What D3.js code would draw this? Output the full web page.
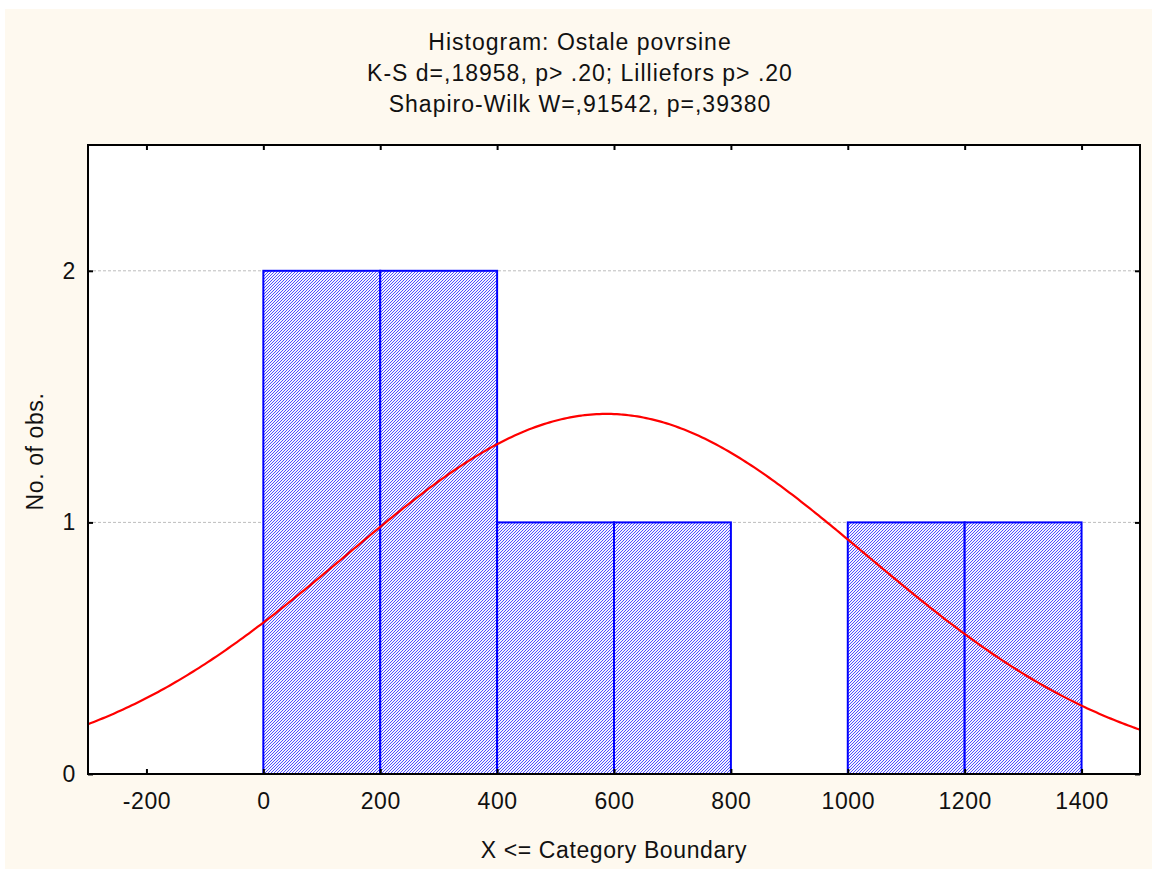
<!DOCTYPE html>
<html><head><meta charset="utf-8">
<script src="https://cdn.jsdelivr.net/npm/d3@7"></script>
<style>body{margin:0;background:#fff}svg{display:block}text{font-family:"Liberation Sans",Arial,sans-serif;fill:#111}</style>
</head><body><div id="chart"></div>
<script>
const titleLines = ["Histogram: Ostale povrsine", "K-S d=,18958, p> .20; Lilliefors p> .20", "Shapiro-Wilk W=,91542, p=,39380"];
const binStarts = [0, 200, 400, 600, 1000, 1200];
const binEnds = [200, 400, 600, 800, 1200, 1400];
const counts = [2, 2, 1, 1, 1, 1];
const xTicks = [-200, 0, 200, 400, 600, 800, 1000, 1200, 1400];
const yTicks = [0, 1, 2];
const fitMean = 587, fitSd = 446, fitN = 8, fitBin = 200;
const xLabel = "X <= Category Boundary", yLabel = "No. of obs.";

const W = 1152, H = 869;
const svg = d3.select("#chart").append("svg").attr("width", W).attr("height", H);
svg.append("rect").attr("x", 5).attr("y", 9).attr("width", W - 5).attr("height", H - 9).attr("fill", "#fef9ef");
const L = 88, R = 1140, T = 145, B = 774;
const x = d3.scaleLinear().domain([-300, 1500]).range([L, R]);
const y = d3.scaleLinear().domain([0, 2.5]).range([B, T]);

const defs = svg.append("defs");
const pat = defs.append("pattern").attr("id", "hatch").attr("patternUnits", "userSpaceOnUse").attr("width", 3).attr("height", 3);
pat.append("rect").attr("width", 3).attr("height", 3).attr("fill", "#f4f4ff");
pat.append("path").attr("d", "M-1,1 l2,-2 M0,3 l3,-3 M2,4 l2,-2").attr("stroke", "#4848ff").attr("stroke-width", 0.95);
defs.append("clipPath").attr("id", "clip").append("rect").attr("x", L).attr("y", T).attr("width", R - L).attr("height", B - T);

svg.append("rect").attr("x", L).attr("y", T).attr("width", R - L).attr("height", B - T).attr("fill", "#fff");

// grid
svg.append("g").selectAll("line").data(yTicks.filter(d => d > 0)).join("line")
  .attr("x1", L).attr("x2", R).attr("y1", d => y(d)).attr("y2", d => y(d))
  .attr("stroke", "#bdbdbd").attr("stroke-width", 1).attr("stroke-dasharray", "3,2");

// bars
const bins = binStarts.map((s, i) => ({s, e: binEnds[i], c: counts[i]}));
svg.append("g").selectAll("rect").data(bins).join("rect")
  .attr("x", d => x(d.s)).attr("y", d => y(d.c))
  .attr("width", d => x(d.e) - x(d.s)).attr("height", d => y(0) - y(d.c))
  .attr("fill", "url(#hatch)").attr("stroke", "#0000ff").attr("stroke-width", 2);

// fitted normal curve
const xs = d3.range(-300, 1501, 5);
const dens = v => fitN * fitBin / (fitSd * Math.sqrt(2 * Math.PI)) * Math.exp(-0.5 * Math.pow((v - fitMean) / fitSd, 2));
svg.append("path").datum(xs).attr("clip-path", "url(#clip)")
  .attr("d", d3.line().x(d => x(d)).y(d => y(dens(d))).curve(d3.curveMonotoneX))
  .attr("fill", "none").attr("stroke", "#ff0000").attr("stroke-width", 2.2);

// frame
svg.append("rect").attr("x", L).attr("y", T).attr("width", R - L).attr("height", B - T)
  .attr("fill", "none").attr("stroke", "#000").attr("stroke-width", 2);

// axes
const fs = 23, ls = "0.6px";
const fmt = d => String(d);
const gB = svg.append("g").attr("transform", `translate(0,${B})`)
  .call(d3.axisBottom(x).tickValues(xTicks).tickSizeInner(-5).tickSizeOuter(0).tickPadding(19).tickFormat(fmt));
const gT = svg.append("g").attr("transform", `translate(0,${T})`)
  .call(d3.axisTop(x).tickValues(xTicks).tickSizeInner(-5).tickSizeOuter(0).tickFormat(""));
const gL = svg.append("g").attr("transform", `translate(${L},0)`)
  .call(d3.axisLeft(y).tickValues(yTicks).tickSizeInner(-5).tickSizeOuter(0).tickPadding(12).tickFormat(fmt));
const gR = svg.append("g").attr("transform", `translate(${R},0)`)
  .call(d3.axisRight(y).tickValues(yTicks).tickSizeInner(-5).tickSizeOuter(0).tickFormat(""));
[gB, gT, gL, gR].forEach(g => {
  g.select(".domain").remove();
  g.selectAll(".tick line").attr("stroke", "#000").attr("stroke-width", 2);
  g.selectAll("text").attr("font-size", fs).attr("letter-spacing", ls).attr("font-family", "Liberation Sans, Arial, sans-serif").attr("fill", "#111");
});

// titles
svg.append("g").selectAll("text").data(titleLines).join("text")
  .attr("x", 580).attr("y", (d, i) => 50 + i * 31).attr("text-anchor", "middle").attr("font-size", fs).attr("letter-spacing", "1px").text(d => d);
svg.append("text").attr("x", (L + R) / 2).attr("y", 858).attr("text-anchor", "middle").attr("font-size", fs).attr("letter-spacing", ls).text(xLabel);
svg.append("text").attr("transform", `translate(43,${(T + B) / 2 - 8}) rotate(-90)`).attr("text-anchor", "middle").attr("font-size", fs).attr("letter-spacing", ls).text(yLabel);
</script></body></html>
